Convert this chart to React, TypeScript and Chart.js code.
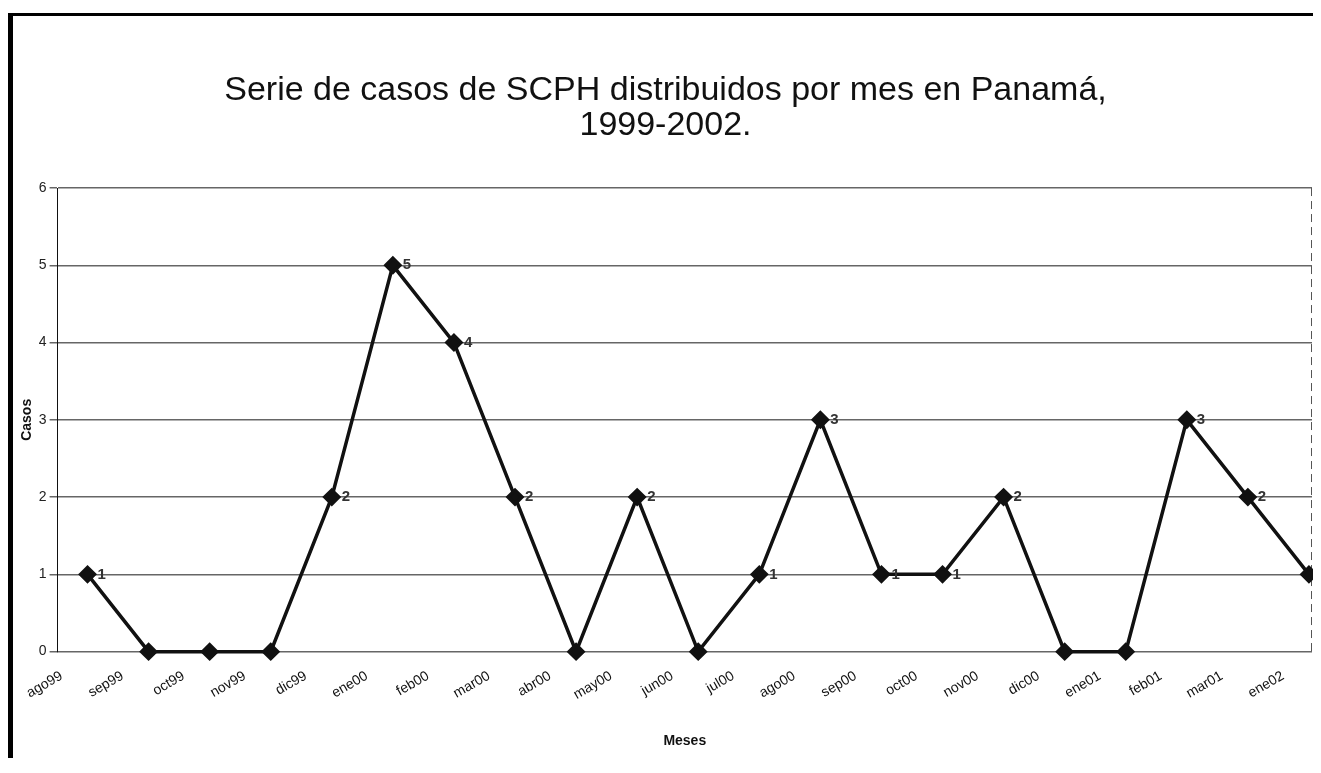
import React, { useEffect, useRef } from "react";
import { Chart, registerables } from "chart.js";

Chart.register(...registerables);

const months = [
  "ago99", "sep99", "oct99", "nov99", "dic99", "ene00", "feb00", "mar00", "abr00", "may00",
  "jun00", "jul00", "ago00", "sep00", "oct00", "nov00", "dic00", "ene01", "feb01", "mar01", "ene02",
];
const cases = [1, 0, 0, 0, 2, 5, 4, 2, 0, 2, 0, 1, 3, 1, 1, 2, 0, 0, 3, 2, 1];
const titleLines = ["Serie de casos de SCPH distribuidos por mes en Panamá,", "1999-2002."];
const yTitle = "Casos";
const xTitle = "Meses";

const SANS = "'Liberation Sans', Arial, sans-serif";

const valueLabels = {
  id: "valueLabels",
  afterDatasetsDraw(chart: any) {
    const ctx = chart.ctx;
    const meta = chart.getDatasetMeta(0);
    ctx.save();
    ctx.font = "bold 15px " + SANS;
    ctx.fillStyle = "#333";
    ctx.textAlign = "left";
    ctx.textBaseline = "middle";
    meta.data.forEach((pt: any, i: number) => {
      if (cases[i] === 0) return;
      ctx.fillText(String(cases[i]), pt.x + 10, pt.y);
    });
    ctx.restore();
  },
};

const rightEdge = {
  id: "rightEdge",
  beforeDatasetsDraw(chart: any) {
    const { ctx, chartArea } = chart;
    ctx.save();
    ctx.strokeStyle = "#555";
    ctx.lineWidth = 1;
    ctx.setLineDash([8, 5]);
    ctx.beginPath();
    ctx.moveTo(chartArea.right - 0.5, chartArea.top);
    ctx.lineTo(chartArea.right - 0.5, chartArea.bottom);
    ctx.stroke();
    ctx.restore();
  },
};

export default function App() {
  const ref = useRef<HTMLCanvasElement | null>(null);

  useEffect(() => {
    if (!ref.current) return;
    const chart = new Chart(ref.current, {
      type: "line",
      data: {
        datasets: [
          {
            data: cases.map((v, i) => ({ x: i, y: v })),
            borderColor: "#111",
            borderWidth: 3.5,
            pointStyle: "rectRot",
            pointRadius: 7,
            pointBackgroundColor: "#111",
            pointBorderColor: "#111",
            tension: 0,
            clip: 20,
          },
        ],
      },
      options: {
        animation: false,
        responsive: false,
        layout: { autoPadding: false, padding: { left: 6, right: 1, top: 0, bottom: 8 } },
        plugins: {
          legend: { display: false },
          tooltip: { enabled: false },
          title: {
            display: true,
            text: titleLines,
            color: "#111",
            font: { family: SANS, size: 34, weight: "normal", lineHeight: 1.03 },
            padding: { top: 57, bottom: 45 },
          },
        },
        scales: {
          x: {
            type: "linear",
            min: -0.49,
            max: 20.05,
            grid: { display: false },
            border: { display: false },
            afterFit: (s: any) => {
              s.paddingRight = 0;
              s.paddingLeft = 0;
            },
            ticks: {
              stepSize: 1,
              includeBounds: false,
              autoSkip: false,
              maxRotation: 30,
              minRotation: 30,
              labelOffset: -26,
              padding: 8,
              color: "#111",
              font: { family: SANS, size: 14 },
              callback: (v: any) => (Number.isInteger(v) ? months[v] : ""),
            },
            title: {
              display: true,
              text: xTitle,
              color: "#111",
              font: { family: SANS, size: 14, weight: "bold" },
              padding: { top: 22, bottom: 0 },
            },
          },
          y: {
            min: 0,
            max: 6,
            grid: { color: "#666", lineWidth: 1.5, tickLength: 8 },
            border: { display: true, color: "#111", width: 1 },
            ticks: {
              stepSize: 1,
              color: "#222",
              padding: 3,
              font: { family: SANS, size: 14 },
            },
            title: {
              display: true,
              text: yTitle,
              color: "#111",
              font: { family: SANS, size: 14, weight: "bold" },
              padding: { top: 0, bottom: 0 },
            },
          },
        },
      },
      plugins: [valueLabels, rightEdge],
    });
    return () => chart.destroy();
  }, []);

  return (
    <div
      style={{
        position: "relative",
        top: 5,
        width: 1300,
        height: 742,
        borderLeft: "5px solid #000",
        borderTop: "3px solid #000",
        borderBottom: "5px solid #000",
        background: "#fff",
      }}
    >
      <canvas ref={ref} width={1300} height={742} style={{ display: "block" }} />
    </div>
  );
}
